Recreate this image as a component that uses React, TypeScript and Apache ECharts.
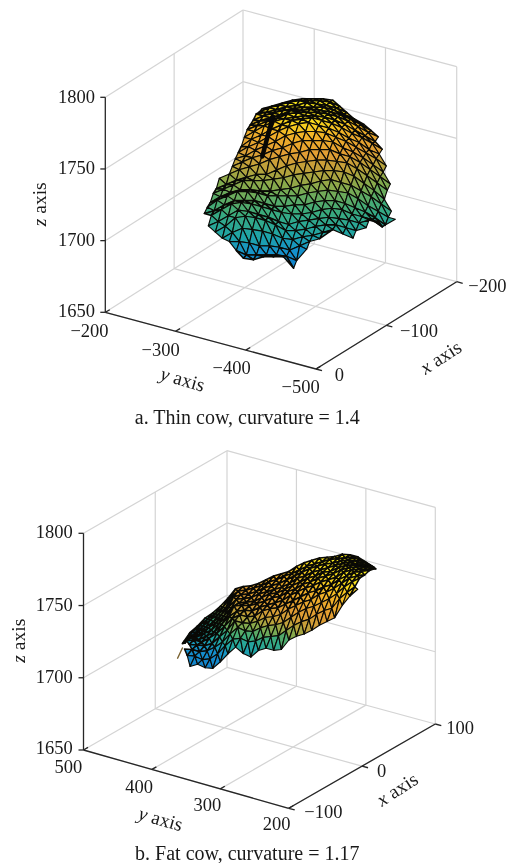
import React, { useEffect, useRef } from "react";
import * as echarts from "echarts";

// ---------- axis values ----------
const zTicks = [1650, 1700, 1750, 1800];
const xTicksThin = [0, -100, -200];
const yTicksThin = [-200, -300, -400, -500];
const xTicksFat = [-100, 0, 100];
const yTicksFat = [500, 400, 300, 200];
const captionThin = "a. Thin cow, curvature = 1.4";
const captionFat = "b. Fat cow, curvature = 1.17";

// ---------- thin cow surface: [row, first column, z values ...] ----------
const thinRows: [number, number, number[]][] = [
  [-6, 10, [1767,1769,1771,1773,1774,1774,1774,1773]],
  [-5, 9, [1766,1769,1771,1773,1774,1774,1774,1773,1770]],
  [-4, 8, [1766,1767,1769,1771,1772,1774,1773,1772,1770,1767]],
  [-3, 7, [1763,1766,1768,1770,1771,1772,1772,1772,1770,1767,1764,1760]],
  [-2, 6, [1761,1764,1766,1768,1771,1771,1772,1771,1770,1768,1765,1761,1757]],
  [-1, 5, [1759,1762,1765,1767,1770,1771,1771,1771,1770,1768,1765,1761,1757,1754]],
  [0, 4, [1755,1759,1763,1766,1768,1769,1770,1770,1769,1767,1764,1760,1756,1752]],
  [1, 3, [1750,1755,1758,1762,1765,1768,1769,1770,1768,1766,1763,1759,1756,1752,1748]],
  [2, 2, [1747,1751,1754,1758,1762,1765,1767,1768,1766,1764,1761,1757,1754,1749,1746]],
  [3, 1, [1744,1746,1750,1753,1756,1760,1762,1763,1763,1762,1759,1756,1752,1748,1744,1739]],
  [4, 0, [1740,1743,1746,1748,1751,1753,1756,1758,1758,1758,1757,1753,1750,1746,1741,1736]],
  [5, -2, [1733,1736,1739,1741,1743,1746,1748,1750,1751,1753,1753,1753,1750,1748,1744,1739,1734,1729]],
  [6, -3, [1727,1730,1733,1735,1737,1737,1740,1743,1745,1746,1747,1747,1746,1745,1741,1736,1731,1726]],
  [7, -4, [1725,1728,1731,1734,1734,1734,1735,1736,1738,1739,1740,1741,1741,1740,1737,1732,1727,1721]],
  [8, -5, [1720,1724,1727,1729,1729,1728,1728,1729,1730,1732,1733,1735,1736,1734,1732,1728,1724,1719,1714]],
  [9, -6, [1718,1723,1726,1729,1729,1728,1726,1726,1726,1726,1728,1729,1730,1729,1728,1724,1719,1715,1711]],
  [10, -7, [1715,1717,1721,1724,1724,1724,1722,1720,1720,1721,1721,1723,1724,1724,1722,1719,1716,1712,1707,1711]],
  [11, -7, [1715,1719,1723,1724,1723,1721,1719,1717,1716,1716,1717,1719,1720,1719,1716,1714,1712,1707]],
  [12, -8, [1709,1712,1716,1720,1719,1717,1715,1712,1710,1712,1713,1714,1715,1714,1713,1711,1713,1711]],
  [13, -8, [1706,1710,1716,1717,1716,1714,1711,1707,1707,1708,1710,1711,1711,1709,1707,1709]],
  [14, -8, [1703,1707,1710,1709,1708,1706,1703,1702,1704,1705,1707,1709,1706,1703]],
  [15, -8, [1702,1702,1701,1699,1699,1698,1696,1699,1702,1704,1709]],
  [16, -8, [1697,1694,1694,1694,1694,1693,1690,1698]],
  [17, -8, [1693,1692,1694,1694,1694,1686]],
];
// The dark fold on the thin cow's left shoulder: x, y, z
const thinFold = [[-120, -320, 1766], [-120, -313, 1752], [-120, -305, 1736]];

// ---------- fat cow surface: [row, first column, z values ...] ----------
const fatRows: [number, number, number[]][] = [
  [0, 0, [1696,1704,1709,1715,1719,1724,1730,1737,1739,1740,1742,1745,1748,1750,1752,1756,1759,1761,1763,1764,1765,1767,1767,1766,1763,1760]],
  [1, 0, [1698,1706,1711,1716,1720,1725,1732,1737,1738,1740,1742,1745,1747,1750,1752,1755,1758,1760,1762,1764,1765,1766,1767,1765,1763,1760]],
  [2, 0, [1702,1707,1712,1717,1721,1726,1734,1736,1737,1739,1742,1744,1746,1749,1752,1755,1758,1760,1762,1763,1765,1766,1766,1764,1763]],
  [3, -1, [1701,1704,1709,1713,1717,1722,1728,1734,1735,1736,1739,1741,1743,1745,1748,1752,1754,1757,1759,1761,1763,1765,1766,1765,1764,1764]],
  [4, -1, [1704,1706,1710,1714,1718,1723,1729,1733,1734,1735,1738,1741,1742,1745,1748,1751,1754,1756,1759,1760,1763,1765,1766,1765,1764]],
  [5, -1, [1707,1708,1711,1714,1719,1724,1732,1733,1733,1735,1737,1740,1741,1745,1747,1751,1753,1756,1758,1760,1763,1765,1766,1766,1766]],
  [6, -2, [1706,1709,1708,1711,1714,1720,1726,1730,1731,1731,1734,1736,1738,1740,1744,1747,1750,1752,1755,1757,1759,1763,1765,1766,1766,1767]],
  [7, -2, [1708,1709,1708,1711,1715,1720,1726,1729,1728,1729,1733,1735,1736,1739,1742,1745,1748,1750,1753,1755,1759,1762,1765,1766,1767]],
  [8, -2, [1707,1707,1707,1709,1714,1719,1726,1725,1725,1727,1730,1731,1733,1737,1740,1743,1745,1749,1751,1754,1758,1762,1764,1765]],
  [9, -3, [1705,1705,1704,1705,1708,1712,1718,1723,1721,1721,1724,1726,1727,1729,1733,1737,1740,1742,1745,1748,1752,1757,1761,1764]],
  [10, -3, [1702,1702,1700,1701,1705,1711,1716,1717,1715,1716,1719,1720,1721,1725,1729,1732,1734,1738,1741,1743,1750,1755,1759]],
  [11, -3, [1696,1698,1696,1696,1701,1707,1712,1708,1706,1711,1713,1712,1713,1720,1723,1725,1728,1732,1735,1738,1747,1754,1759]],
];
// The thin stray tail at the fat cow's lower-left end: x, y, z
const fatTail = [[10, 471, 1693], [10, 478, 1685]];

// ---------- colour scale over z ----------
const colorStops: [number, string][] = [
  [1680, "#0f74cc"], [1695, "#1590cc"], [1705, "#1fa4a6"], [1718, "#3caa7a"],
  [1730, "#80aa4e"], [1740, "#b8a23c"], [1750, "#e09c34"], [1760, "#f0b028"],
  [1768, "#f8d81c"], [1776, "#fcf41c"],
];
// The fat cow's own colour range: surface z -> position on the colour scale
const fatColorRange = [[1690, 1682], [1705, 1695], [1715, 1712], [1730, 1744], [1770, 1778]];
const thinColorRange = [[1650, 1650], [1800, 1800]];

// ---------- layout: where each panel's box lands on the page ----------
type Panel = {
  L: number[]; F: number[]; R: number[]; B: number[]; H: number;
  xStart: number; xEnd: number; yStart: number; yEnd: number;
};
const zMin = 1650, zMax = 1800;
const panelThin: Panel = {
  L: [105.3, 312.3], F: [316, 369], R: [456.7, 281.7], B: [243, 225], H: 215,
  xStart: 0, xEnd: -200, yStart: -200, yEnd: -500,
};
const panelFat: Panel = {
  L: [83.5, 750], F: [288.7, 808.3], R: [435.3, 724], B: [227, 667.4], H: 216.7,
  xStart: -100, xEnd: 100, yStart: 500, yEnd: 200,
};

function project(p: Panel, x: number, y: number, z: number): number[] {
  const u = (x - p.xStart) / (p.xEnd - p.xStart);
  const v = (y - p.yStart) / (p.yEnd - p.yStart);
  const w = (z - zMin) / (zMax - zMin);
  const mix = (k: number) =>
    (1 - u) * (1 - v) * p.L[k] + (1 - u) * v * p.F[k] + u * v * p.R[k] + u * (1 - v) * p.B[k];
  return [mix(0), mix(1) - w * p.H];
}

function remap(z: number, range: number[][]): number {
  if (z <= range[0][0]) return range[0][1] + z - range[0][0];
  for (let i = 1; i < range.length; i++) {
    if (z <= range[i][0]) {
      const t = (z - range[i - 1][0]) / (range[i][0] - range[i - 1][0]);
      return range[i - 1][1] + t * (range[i][1] - range[i - 1][1]);
    }
  }
  return range[range.length - 1][1];
}

function colorOf(z: number): string {
  const s = colorStops;
  if (z <= s[0][0]) return s[0][1];
  for (let i = 1; i < s.length; i++) {
    if (z <= s[i][0]) {
      const t = (z - s[i - 1][0]) / (s[i][0] - s[i - 1][0]);
      return echarts.color.lerp(t, [s[i - 1][1], s[i][1]]) as string;
    }
  }
  return s[s.length - 1][1];
}

// Triangles of the thin cow lattice (row d, column k: x follows k, y follows k + d)
function thinTriangles(): number[][] {
  const z = new Map<string, number>();
  thinRows.forEach(([d, k0, vals]) => vals.forEach((v, i) => z.set(d + "," + (k0 + i), v)));
  const node = (d: number, k: number) => {
    const v = z.get(d + "," + k);
    return v === undefined ? null : [-82 - 4.32 * k, -260 - 9.96 * (k + d), v];
  };
  const out: number[][] = [];
  thinRows.forEach(([d, k0, vals]) => {
    vals.forEach((_, i) => {
      const k = k0 + i;
      const a = node(d, k), b = node(d, k + 1), c = node(d + 1, k), e = node(d - 1, k + 1);
      if (a && b && e) out.push([...a, ...e, ...b]);
      if (a && b && c) out.push([...a, ...b, ...c]);
    });
  });
  return out;
}

// Triangles of the fat cow lattice (row r, column n)
function fatTriangles(): number[][] {
  const z = new Map<string, number>();
  fatRows.forEach(([r, n0, vals]) => vals.forEach((v, i) => z.set(r + "," + (n0 + i), v)));
  const node = (r: number, n: number) => {
    const v = z.get(r + "," + n);
    return v === undefined ? null : [10 + 2.4 * n - 2.4 * r, 471.2 - 8.52 * n - 6.54 * r, v];
  };
  const out: number[][] = [];
  fatRows.forEach(([r, n0, vals]) => {
    vals.forEach((_, i) => {
      const n = n0 + i;
      const a = node(r, n), b = node(r, n + 1), c = node(r + 1, n), e = node(r + 1, n + 1);
      if (a && b && c) out.push([...a, ...b, ...c]);
      if (b && c && e) out.push([...b, ...e, ...c]);
    });
  });
  return out;
}

// Box lines: [x1,y1,z1,x2,y2,z2,kind,pxDx,pxDy]; kind 0 = grid, 1 = axis
function boxLines(p: Panel, xTicks: number[], yTicks: number[]): number[][] {
  const out: number[][] = [];
  const { xStart: x0, xEnd: x1, yStart: y0, yEnd: y1 } = p;
  zTicks.forEach((z) => {
    if (z > zMin) out.push([x0, y0, z, x1, y0, z, 0, 0, 0]);
    if (z > zMin) out.push([x1, y0, z, x1, y1, z, 0, 0, 0]);
  });
  xTicks.forEach((x) => {
    if (x !== x0) out.push([x, y0, zMin, x, y0, zMax, 0, 0, 0]);
    out.push([x, y0, zMin, x, y1, zMin, 0, 0, 0]);
  });
  yTicks.forEach((y) => {
    if (y !== y0) out.push([x1, y, zMin, x1, y, zMax, 0, 0, 0]);
    out.push([x0, y, zMin, x1, y, zMin, 0, 0, 0]);
  });
  out.push([x0, y0, zMin, x0, y0, zMax, 1, 0, 0]);
  out.push([x0, y0, zMin, x0, y1, zMin, 1, 0, 0]);
  out.push([x0, y1, zMin, x1, y1, zMin, 1, 0, 0]);
  zTicks.forEach((z) => out.push([x0, y0, z, x0, y0, z, 1, -5, 0]));
  xTicks.forEach((x) => out.push([x, y1, zMin, x, y1, zMin, 1, 6, 1.6]));
  yTicks.forEach((y) => out.push([x0, y, zMin, x0, y, zMin, 1, 4.5, -2.6]));
  return out;
}

const SERIF = '"Liberation Serif", "Times New Roman", serif';
const INK = "#1a1a1a";

const label = (text: string, x: number, y: number, align = "center") => ({
  type: "text", x, y, silent: true,
  style: { text, fill: INK, font: `18.5px ${SERIF}`, align, verticalAlign: "middle" },
});
const title = (letter: string, x: number, y: number, deg: number) => ({
  type: "text", x, y, rotation: (deg * Math.PI) / 180, silent: true,
  style: {
    text: `{i|${letter}}{n| axis}`, fill: INK, align: "center", verticalAlign: "middle",
    rich: {
      i: { font: `italic 19.5px ${SERIF}`, fill: INK },
      n: { font: `19.5px ${SERIF}`, fill: INK },
    },
  },
});
const caption = (text: string, x: number, y: number) => ({
  type: "text", x, y, silent: true,
  style: { text, fill: INK, font: `20px ${SERIF}`, align: "center", verticalAlign: "middle" },
});
const tickText = (v: number) => String(v).replace("-", "\u2212");

// Tick label anchors on the page, in the same order as the tick arrays
const zLabelYThin = [310.7, 239.5, 168, 97];
const yLabelPosThin = [[89.5, 331], [160.7, 350], [231.7, 368.3], [300.7, 387.3]];
const xLabelPosThin = [[339.3, 375], [419, 330.7], [487.3, 286]];
const zLabelYFat = [748.3, 676.7, 605, 531.7];
const yLabelPosFat = [[68.3, 767.3], [139, 786.7], [207.3, 805], [276.7, 824]];
const xLabelPosFat = [[323.3, 812.3], [381.7, 770.7], [460, 727.7]];

function surfaceSeries(p: Panel, data: number[][], range: number[][]) {
  return {
    type: "custom", silent: true, clip: false, data,
    renderItem: (_: unknown, api: any) => {
      const pts = [0, 3, 6].map((o) =>
        api.coord(project(p, api.value(o), api.value(o + 1), api.value(o + 2)))
      );
      const zMean = (api.value(2) + api.value(5) + api.value(8)) / 3;
      const area = Math.abs(
        (pts[1][0] - pts[0][0]) * (pts[2][1] - pts[0][1]) -
          (pts[2][0] - pts[0][0]) * (pts[1][1] - pts[0][1])
      ) / 2;
      return {
        type: "polygon",
        shape: { points: pts },
        style: {
          fill: colorOf(remap(zMean, range)),
          stroke: "#0a0a06",
          lineWidth: area < 25 ? 1.55 : 1.15,
          lineJoin: "round",
        },
      };
    },
  };
}

function strokeSeries(p: Panel, pts: number[][], color: string, width: number) {
  return {
    type: "custom", silent: true, clip: false, data: pts.slice(0, -1).map((a, i) => [...a, ...pts[i + 1]]),
    renderItem: (_: unknown, api: any) => {
      const a = api.coord(project(p, api.value(0), api.value(1), api.value(2)));
      const b = api.coord(project(p, api.value(3), api.value(4), api.value(5)));
      return {
        type: "line",
        shape: { x1: a[0], y1: a[1], x2: b[0], y2: b[1] },
        style: { stroke: color, lineWidth: width, lineCap: "round" },
      };
    },
  };
}

function boxSeries(p: Panel, data: number[][]) {
  return {
    type: "custom", silent: true, clip: false, data,
    renderItem: (_: unknown, api: any) => {
      const a = project(p, api.value(0), api.value(1), api.value(2));
      const b = project(p, api.value(3), api.value(4), api.value(5));
      const kind = api.value(6);
      const c1 = api.coord(a);
      const c2 = api.coord([b[0] + api.value(7), b[1] + api.value(8)]);
      return {
        type: "line",
        shape: { x1: c1[0], y1: c1[1], x2: c2[0], y2: c2[1] },
        style: kind ? { stroke: "#262626", lineWidth: 1.3 } : { stroke: "#d4d4d4", lineWidth: 1.2 },
      };
    },
  };
}

export default function App() {
  const ref = useRef<HTMLDivElement>(null);
  useEffect(() => {
    document.body.style.margin = "0";
    document.body.style.background = "#fff";
    const chart = echarts.init(ref.current!, undefined, { renderer: "svg" });
    const graphics = [
      ...zTicks.map((z, i) => label(String(z), 95, zLabelYThin[i], "right")),
      ...yTicksThin.map((v, i) => label(tickText(v), yLabelPosThin[i][0], yLabelPosThin[i][1])),
      ...xTicksThin.map((v, i) => label(tickText(v), xLabelPosThin[i][0], xLabelPosThin[i][1])),
      ...zTicks.map((z, i) => label(String(z), 72.7, zLabelYFat[i], "right")),
      ...yTicksFat.map((v, i) => label(tickText(v), yLabelPosFat[i][0], yLabelPosFat[i][1])),
      ...xTicksFat.map((v, i) => label(tickText(v), xLabelPosFat[i][0], xLabelPosFat[i][1])),
      title("z", 39.3, 204.3, 90),
      title("y", 182.7, 379.3, -16),
      title("x", 440.7, 357.3, 33),
      title("z", 18.3, 640.7, 90),
      title("y", 160.7, 819, -16),
      title("x", 397.3, 789.3, 33),
      caption(captionThin, 247.3, 416.7),
      caption(captionFat, 247.3, 853.3),
    ];
    chart.setOption({
      animation: false,
      backgroundColor: "#ffffff",
      grid: { left: 0, top: 0, right: 0, bottom: 0 },
      xAxis: { type: "value", min: 0, max: 507, show: false },
      yAxis: { type: "value", min: 0, max: 863, inverse: true, show: false },
      series: [
        boxSeries(panelThin, boxLines(panelThin, xTicksThin, yTicksThin)),
        boxSeries(panelFat, boxLines(panelFat, xTicksFat, yTicksFat)),
        strokeSeries(panelFat, fatTail, "#7a6230", 1.4),
        surfaceSeries(panelThin, thinTriangles(), thinColorRange),
        surfaceSeries(panelFat, fatTriangles(), fatColorRange),
        strokeSeries(panelThin, thinFold, "#070705", 4.5),
      ],
      graphic: graphics,
    });
    return () => chart.dispose();
  }, []);
  return (
    <div
      ref={ref}
      style={{ position: "fixed", left: 0, top: 0, width: 507, height: 863, filter: "blur(0.35px)" }}
    />
  );
}
